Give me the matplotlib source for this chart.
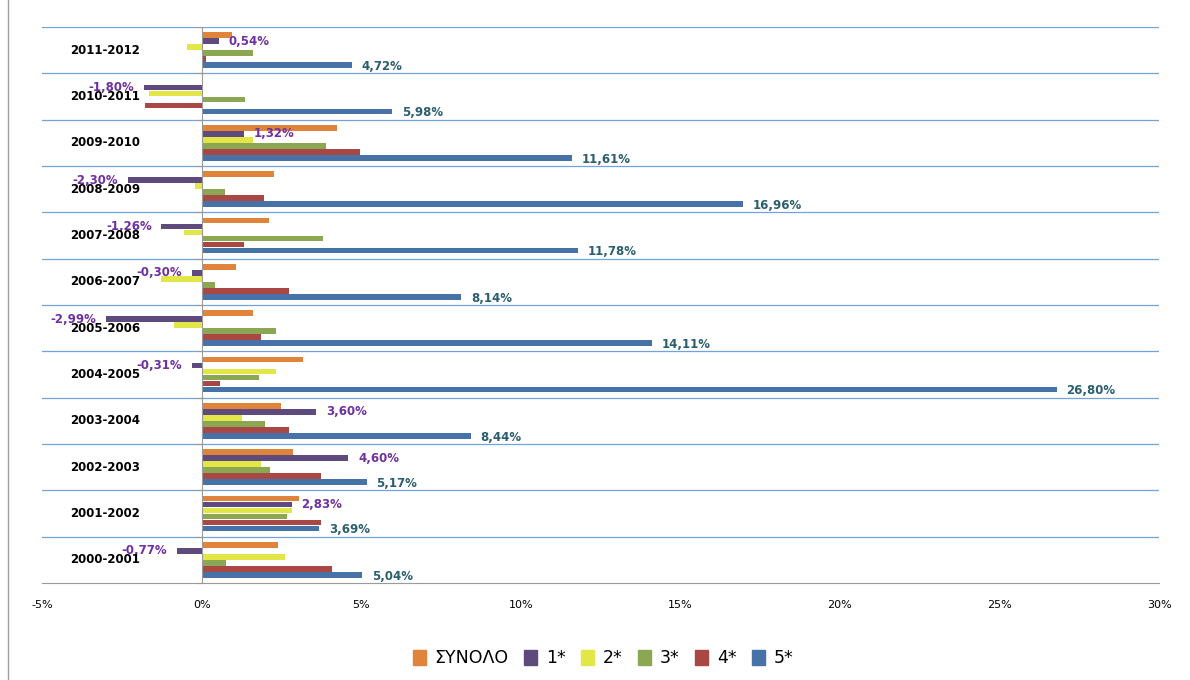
import numpy as np
import matplotlib.pyplot as plt
from matplotlib.lines import Line2D
from matplotlib.patches import Patch

etos = ['2000-2001', '2001-2002', '2002-2003', '2003-2004', '2004-2005', '2005-2006',
        '2006-2007', '2007-2008', '2008-2009', '2009-2010', '2010-2011', '2011-2012']

synolo = [2.39, 3.06, 2.88, 2.49, 3.18, 1.62, 1.09, 2.11, 2.27, 4.24, 0.03, 0.96]
star1 = [-0.77, 2.83, 4.60, 3.60, -0.31, -2.99, -0.30, -1.26, -2.30, 1.32, -1.80, 0.54]
star2 = [2.60, 2.84, 1.86, 1.27, 2.34, -0.85, -1.27, -0.55, -0.20, 1.62, -1.64, -0.47]
star3 = [0.78, 2.69, 2.15, 2.00, 1.81, 2.34, 0.41, 3.80, 0.74, 3.90, 1.37, 1.62]
star4 = [4.09, 3.75, 3.75, 2.73, 0.59, 1.85, 2.73, 1.32, 1.95, 4.96, -1.76, 0.13]
star5 = [5.04, 3.69, 5.17, 8.44, 26.80, 14.11, 8.14, 11.78, 16.96, 11.61, 5.98, 4.72]

onomata = ['ΣΥΝΟΛΟ', '1*', '2*', '3*', '4*', '5*']
seires = [synolo, star1, star2, star3, star4, star5]
xromata = ['#E0843C', '#5F4A7D', '#E3E647', '#8CA753', '#A94745', '#4672A8']

fig = plt.figure(figsize=(11.9, 6.8), dpi=100)
ax = fig.add_axes([42 / 1190, 1 - 583 / 680, (1159 - 42) / 1190, (583 - 27) / 680])

y = np.arange(len(etos))
step = 0.13
h = 0.12

for k in range(6):
    ypos = y + (2.5 - k) * step
    ax.barh(ypos, seires[k], height=h, color=xromata[k], linewidth=0)

# etiketes 1* kai 5*
def etiketa(vals, k, col, dy):
    for i, v in enumerate(vals):
        yy = i + (2.5 - k) * step
        txt = ('%.2f' % v).replace('.', ',') + '%'
        if v >= 0:
            ax.annotate(txt, (v, yy), xytext=(7, dy), textcoords='offset points',
                        ha='left', va='center', color=col, fontsize=8.5, fontweight='bold')
        else:
            ax.annotate(txt, (v, yy), xytext=(-7, dy), textcoords='offset points',
                        ha='right', va='center', color=col, fontsize=8.5, fontweight='bold')

etiketa(star1, 1, '#7030A0', 0)
etiketa(star5, 5, '#2B5F6E', -1)

# grammes plegmatos
for b in np.arange(-0.5, len(etos), 1.0)[1:]:
    ax.axhline(b, color='#74A2DA', linewidth=0.9, zorder=0)

ax.set_xlim(-5, 30)
ax.set_ylim(-0.5, len(etos) - 0.5)

ax.spines['top'].set_visible(False)
ax.spines['right'].set_visible(False)
ax.spines['left'].set_position(('data', 0))
ax.spines['left'].set_color('#9A9A9A')
ax.spines['bottom'].set_color('#9A9A9A')

ax.set_yticks(np.arange(-0.5, len(etos), 1.0))
ax.set_yticklabels([])
ax.tick_params(axis='y', direction='out', length=4, color='#9A9A9A')

ax.set_xticks(range(-5, 31, 5))
ax.set_xticklabels(['%d%%' % t for t in range(-5, 31, 5)], fontsize=8,
                   family=['Liberation Sans Narrow', 'DejaVu Sans'])
ax.tick_params(axis='x', length=0, pad=12)

for i, e in enumerate(etos):
    ax.text(-4.12, i, e, ha='left', va='center', fontsize=8.5, fontweight='bold', color='black')

handles = [Patch(color=c) for c in xromata]
fig.legend(handles, onomata, loc='center', bbox_to_anchor=(0.507, 1 - 658 / 680), ncol=6,
           frameon=False, fontsize=12.5, handlelength=0.75, handleheight=0.95,
           handletextpad=0.5, columnspacing=0.9)

fig.add_artist(Line2D([8 / 1190, 8 / 1190], [0, 1], color='#A0A0A0', linewidth=1))

fig.savefig('out.png', dpi=100)
